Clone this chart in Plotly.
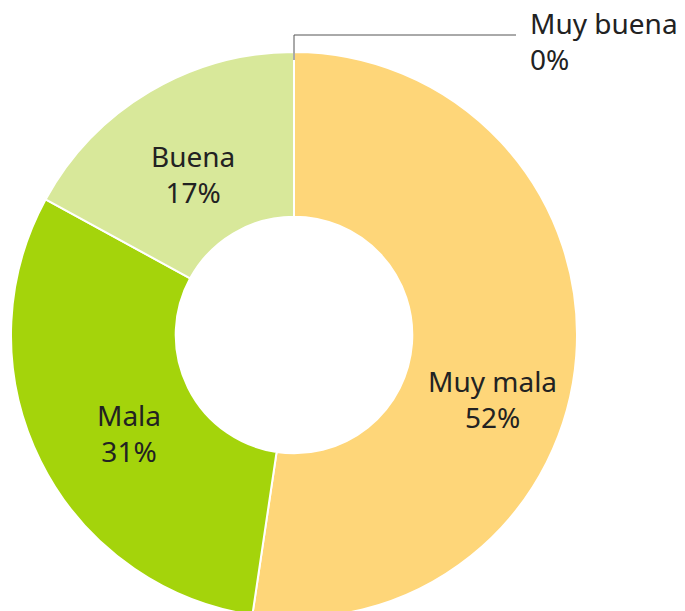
import plotly.graph_objects as go

labels = ["Muy mala", "Mala", "Buena", "Muy buena"]
values = [52.35, 30.6, 17.05, 0]
colors = ["#FED679", "#A4D40B", "#D8E89A", "#B8D86A"]

# label block centres in pixels (text layout only)
label_pos = [(492, 399), (129, 433), (193, 174), (528, 41)]
label_align = ["center", "center", "center", "left"]

W, H = 685, 620
FONT = "Noto Sans"
FS = 28

fig = go.Figure()
fig.add_trace(go.Pie(
    labels=labels,
    values=values,
    sort=False,
    direction="clockwise",
    rotation=0,
    hole=0.418,
    marker=dict(colors=colors, line=dict(color="white", width=2)),
    textinfo="none",
    showlegend=False,
    hoverinfo="label+percent",
    domain=dict(x=[11 / W, 577 / W], y=[(H - 618) / H, (H - 52) / H]),
))

for lab, val, (px, py), al in zip(labels, values, label_pos, label_align):
    fig.add_annotation(
        x=px, y=py, xref="x", yref="y",
        text=f"{lab}<br>{round(val)}%", showarrow=False, align=al,
        xanchor="left" if al == "left" else "center", yanchor="middle",
        font=dict(family=FONT, size=FS, color="#222222"),
    )

# leader line for the zero-value slice
fig.add_shape(type="path", path="M 294 60 L 294 35 L 516 35", xref="x", yref="y",
              line=dict(color="#555555", width=1))

fig.update_xaxes(range=[0, W], visible=False, fixedrange=True)
fig.update_yaxes(range=[H, 0], visible=False, fixedrange=True)
fig.update_layout(
    width=W, height=H,
    margin=dict(l=0, r=0, t=0, b=0),
    paper_bgcolor="white", plot_bgcolor="rgba(0,0,0,0)",
)
fig.write_html("out.html", config={"displayModeBar": False},
               post_script="document.body.style.margin='0';document.body.style.overflow='hidden';")
